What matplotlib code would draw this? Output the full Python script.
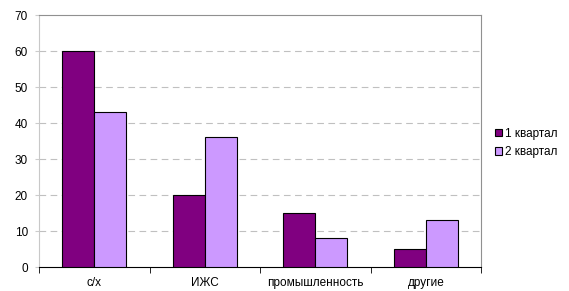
import matplotlib
matplotlib.use("Agg")
import matplotlib.pyplot as plt
import numpy as np

categories = ["с/х", "ИЖС", "промышленность", "другие"]
q1 = [60, 20, 15, 5]
q2 = [43, 36, 8, 13]
series_names = ["1 квартал", "2 квартал"]
yticks = [0, 10, 20, 30, 40, 50, 60, 70]

plt.rcParams['font.family'] = ['Liberation Sans', 'DejaVu Sans']

fig = plt.figure(figsize=(5.69, 2.91), dpi=100)
ax = fig.add_axes([39/569, 24/291, 442/569, 252/291])

x = np.arange(len(categories))
w = 0.29
ax.bar(x - w/2, q1, w, color="#800080", edgecolor="black", linewidth=0.8, label=series_names[0], zorder=3)
ax.bar(x + w/2, q2, w, color="#CC99FF", edgecolor="black", linewidth=0.8, label=series_names[1], zorder=3)

ax.set_xlim(-0.5, len(categories) - 0.5)
ax.set_ylim(0, 70)
ax.set_yticks(yticks)
ax.set_yticklabels([str(v) for v in yticks], fontsize=8.5)
ax.set_xticks(x)
ax.set_xticklabels(categories, fontsize=8.5)
ax.tick_params(axis='x', which='major', length=0, pad=7)
ax.set_xticks(np.arange(-0.5, len(categories), 1), minor=True)
ax.tick_params(axis='x', which='minor', length=4, direction='out', color='black')
ax.tick_params(axis='y', length=3, color='#CCCCCC', pad=5)

for v in yticks[1:-1]:
    ax.axhline(v, color="#C0C0C0", linestyle=(0, (6, 4)), linewidth=0.8, zorder=1)

ax.spines['top'].set_color('#909090')
ax.spines['right'].set_color('#909090')
ax.spines['left'].set_color('#C8C8C8')
ax.spines['bottom'].set_color('black')
for s in ax.spines.values():
    s.set_linewidth(0.8)

leg = fig.legend(loc='upper left', bbox_to_anchor=(490/569, 1 - 123/291), frameon=False,
                 fontsize=8.5, handlelength=0.6, handleheight=0.6, handletextpad=0.3,
                 labelspacing=0.55, borderaxespad=0)

fig.savefig("out.png", dpi=100)
